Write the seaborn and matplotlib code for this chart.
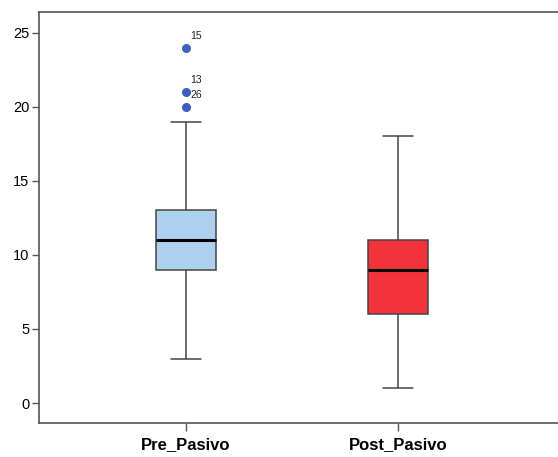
import numpy as np
import pandas as pd
import matplotlib
matplotlib.use("Agg")
import matplotlib.pyplot as plt
import seaborn as sns

# valores (cuartiles de Tukey)
pre_pasivo = [3, 5, 6, 7, 8, 8, 9, 9, 10, 10, 10, 11, 11, 11, 11, 12, 12, 12, 12,
              13, 13, 13, 14, 15, 16, 19, 20, 21, 24]
post_pasivo = [1, 3, 4, 5, 5, 6, 6, 6, 7, 7, 8, 8, 9, 9, 9, 9, 10, 10, 10,
               11, 11, 11, 12, 13, 14, 15, 16, 17, 18]
grupos = ["Pre_Pasivo", "Post_Pasivo"]
atipicos = [24, 21, 20]
casos = ["15", "13", "26"]
colores = ["#AECFEE", "#F2333A"]

df = pd.DataFrame({
    "grupo": [grupos[0]] * len(pre_pasivo) + [grupos[1]] * len(post_pasivo),
    "valor": pre_pasivo + post_pasivo,
})

sns.set_style("white")
plt.rcParams["font.family"] = ["Liberation Sans", "DejaVu Sans"]
plt.rcParams["text.color"] = "black"
plt.rcParams["xtick.color"] = "black"
plt.rcParams["ytick.color"] = "black"

fig = plt.figure(figsize=(5.58, 4.57), dpi=100)
ax = fig.add_axes([39 / 558, 34 / 457, 1 - 39 / 558, (423 - 12) / 457])

sns.boxplot(data=df, x="grupo", y="valor", hue="grupo", palette=colores,
            order=grupos, hue_order=grupos, width=0.28, legend=False, ax=ax,
            saturation=1, linecolor="#444444", linewidth=1.1, whis=1.5,
            medianprops=dict(color="black", linewidth=2.2),
            flierprops=dict(marker="o", markersize=5.5, markerfacecolor="#3F5FBF",
                            markeredgecolor="#3F5FBF"))

for v, c in zip(atipicos, casos):
    ax.annotate(c, xy=(0, v), xytext=(3, 5), textcoords="offset points",
                fontsize=7.5, color="#222222", ha="left", va="bottom")

ax.set_xlim(-147 / 212, 372 / 212)
ax.set_ylim(-1.35, 26.4)
ax.set_yticks([0, 5, 10, 15, 20, 25])
ax.set_xlabel("")
ax.set_ylabel("")
ax.tick_params(axis="y", left=True, length=5, width=1, color="#555555",
               labelcolor="black", labelsize=10.5, pad=2)
ax.tick_params(axis="x", bottom=True, length=6, width=1, color="#555555",
               labelcolor="black", labelsize=12, pad=4)
for lab in ax.get_xticklabels():
    lab.set_fontweight("bold")
for lab in ax.get_yticklabels():
    lab.set_fontweight("medium")

for s in ["left", "bottom", "top"]:
    ax.spines[s].set_color("#555555")
    ax.spines[s].set_linewidth(1.2)
ax.spines["right"].set_visible(False)

fig.savefig("out.png", dpi=100)
